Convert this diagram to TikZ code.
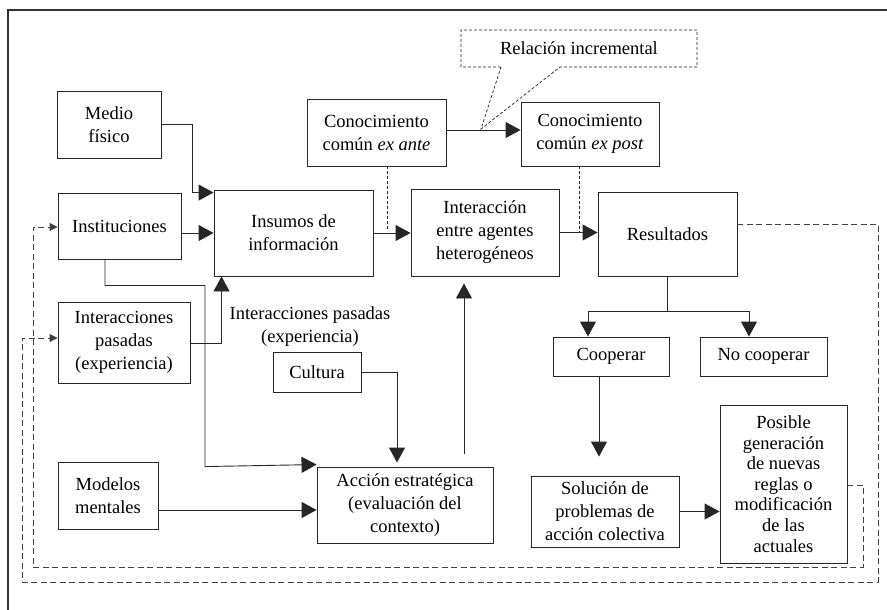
\documentclass[tikz,border=0pt]{standalone}
\usepackage{fontspec}
\setmainfont{Liberation Serif}
\usetikzlibrary{arrows.meta}
\begin{document}
\begin{tikzpicture}[x=1pt,y=-1pt,
  bx/.style={draw=black!85,line width=0.9pt,align=center,inner sep=0pt,font=\fontsize{18.5}{23}\selectfont},
  lbl/.style={align=center,inner sep=0pt,font=\fontsize{18.5}{23}\selectfont},
  ln/.style={draw=black!85,line width=0.9pt},
  arr/.style={ln,-{Triangle[length=15pt,width=16pt]}},
  fb/.style={draw=black!75,line width=0.9pt,dash pattern=on 6pt off 3.5pt},
  fbarr/.style={fb,-{Triangle[length=8pt,width=8pt]}},
  fine/.style={draw=black!85,line width=0.7pt,dash pattern=on 3pt off 2pt}]
\useasboundingbox (0,0) rectangle (887,610);
% frame
\draw[line width=1.4pt,black!80] (8,610) -- (8,10) -- (887,10);
% nodes
\node[bx,minimum width=104pt,minimum height=67pt] (medio) at (109,124.5) {Medio\\físico};
\node[bx,minimum width=123pt,minimum height=66pt] (inst) at (119.5,226) {Instituciones};
\node[bx,minimum width=159pt,minimum height=86pt] (insumos) at (293.5,233) {Insumos de\\información};
\node[bx,minimum width=139pt,minimum height=67pt] (exante) at (376.5,132.5) {Conocimiento\\común \textit{ex ante}};
\node[bx,minimum width=138pt,minimum height=64pt] (expost) at (590,134) {Conocimiento\\común \textit{ex post}};
\node[bx,minimum width=148pt,minimum height=87pt] (interac) at (485,232.5) {Interacción\\entre agentes\\heterogéneos};
\node[bx,minimum width=139pt,minimum height=84pt] (result) at (667.5,234) {Resultados};
\node[bx,minimum width=116pt,minimum height=39pt] (coop) at (611,356.5) {Cooperar};
\node[bx,minimum width=127pt,minimum height=39pt] (nocoop) at (763.5,356.5) {No cooperar};
\node[bx,minimum width=148pt,minimum height=71pt] (sol) at (605,511.5) {Solución de\\problemas de\\acción colectiva};
\node[bx,minimum width=127pt,minimum height=158pt,font=\fontsize{18.5}{20.6}\selectfont] (posible) at (783.5,484) {Posible\\generación\\de nuevas\\reglas o\\modificación\\de las\\actuales};
\node[bx,minimum width=132pt,minimum height=81pt] (pasadas) at (124,342.5) {Interacciones\\pasadas\\(experiencia)};
\node[bx,minimum width=100pt,minimum height=67pt] (modelos) at (108,495.5) {Modelos\\mentales};
\node[bx,minimum width=176pt,minimum height=76pt] (accion) at (405,505) {Acción estratégica\\(evaluación del\\contexto)};
\node[bx,minimum width=88pt,minimum height=40pt] (cultura) at (317,372) {Cultura};
\node[lbl] (exper) at (310,327) {Interacciones pasadas\\(experiencia)};
% callout
\coordinate (tip) at (481,129);
\draw[fine] (501,67) -- (461,67) -- (461,30) -- (697,30) -- (697,67) -- (560,67) -- (tip) -- cycle;
\node[lbl] (rel) at (579,48) {Relación incremental};
% main arrows
\draw[arr] (medio.east) -| ([xshift=-21pt,yshift=-3pt]insumos.north west) -- ([yshift=-3pt]insumos.north west);
\draw[arr] (inst.east |- insumos.west) -- (insumos.west);
\draw[arr] (insumos.east) -- (interac.west |- insumos.east);
\draw[arr] (interac.east) -- (result.west |- interac.east);
\draw[arr] ([yshift=2.5pt]exante.east) -- ([yshift=2.5pt]expost.west |- exante.east);
\draw[fine] ([xshift=11pt]exante.south) -- ([xshift=11pt,yshift=3pt]exante.south |- insumos.east);
\draw[fine] ([xshift=-11pt]expost.south) -- ([xshift=-11pt]expost.south |- interac.east);
\draw[ln] (result.south) -- ++(0,35) coordinate (split);
\draw[arr] (split) -| ([xshift=-23pt]coop.north);
\draw[arr] (split) -| ([xshift=-14.5pt]nocoop.north);
\draw[arr,shorten >=19pt] ([xshift=-12pt]coop.south) -- ([xshift=-12pt]coop.south |- sol.north);
\draw[arr] (sol.east) -- (posible.west |- sol.east);
% left side connectors
\draw[arr] ([xshift=-14.5pt]inst.south) |- ++(100,26) coordinate (c1) -- (c1 |- accion.north west) -- ([yshift=2pt]accion.north west);
\draw[arr] ([yshift=-0.5pt]pasadas.east) -| ([xshift=8pt]insumos.south west);
\coordinate (m1) at ([yshift=-14.5pt]modelos.east);
\draw[arr] (m1) -- (accion.west |- m1);
\draw[arr,shorten >=4pt] (cultura.east) -| ([xshift=-8pt]accion.north);
\draw[arr,shorten <=13pt,shorten >=7pt] ([xshift=59pt]accion.north) -- ([xshift=59pt]accion.north |- interac.south);
% feedback loops
\coordinate (p1) at (863,485);
\coordinate (p2) at (863,567);
\coordinate (p3) at (33,567);
\coordinate (p4) at (33,227);
\draw[fbarr] (posible.east |- p1) -- (p1) -- (p2) -- (p3) -- (p4) -- (inst.west |- p4);
\coordinate (r1) at (878,224);
\coordinate (r2) at (878,582);
\coordinate (r3) at (22,582);
\coordinate (r4) at (22,338);
\draw[fbarr] (result.east |- r1) -- (r1) -- (r2) -- (r3) -- (r4) -- (pasadas.west |- r4);
\end{tikzpicture}
\end{document}
